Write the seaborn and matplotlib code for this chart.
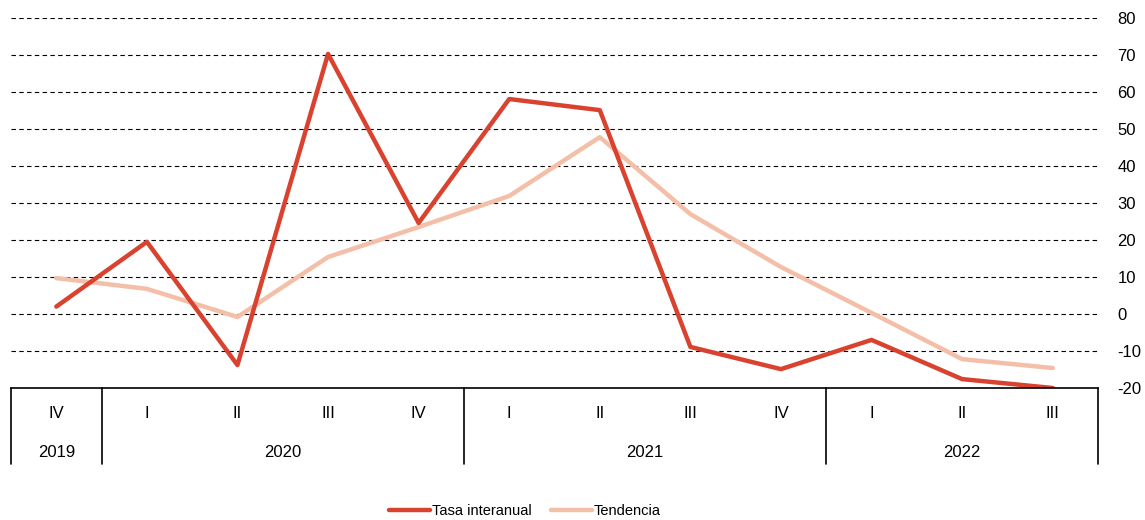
import pandas as pd
import seaborn as sns
import matplotlib.pyplot as plt
import matplotlib.transforms as mtransforms

# Datos
quarters = ['IV', 'I', 'II', 'III', 'IV', 'I', 'II', 'III', 'IV', 'I', 'II', 'III']
years = ['2019', '2020', '2021', '2022']
quarters_per_year = [1, 4, 4, 3]
tasa_interanual = [2.0, 19.5, -13.8, 70.3, 24.6, 58.1, 55.1, -8.9, -14.9, -7.0, -17.6, -20.0]
tendencia = [9.7, 6.8, -0.8, 15.4, 23.5, 31.9, 47.8, 27.0, 12.7, 0.3, -12.2, -14.6]

RED = '#d9422f'
PINK = '#f3bfa8'

def build_frame():
    """Long table for seaborn"""
    idx = list(range(len(quarters)))
    df = pd.DataFrame({
        'pos': idx * 2,
        'valor': tasa_interanual + tendencia,
        'serie': ['Tasa interanual'] * len(idx) + ['Tendencia'] * len(idx),
    })
    return df


def main():
    sns.set_style('white')
    plt.rcParams['font.family'] = ['Liberation Sans', 'DejaVu Sans']
    plt.rcParams['axes.unicode_minus'] = False
    plt.rcParams['text.color'] = 'black'
    plt.rcParams['ytick.color'] = 'black'
    plt.rcParams['ytick.labelcolor'] = 'black'

    df = build_frame()

    fig = plt.figure(figsize=(11.45, 5.2), dpi=100)
    ax = fig.add_axes([11 / 1145, 1 - 388 / 520, (1098 - 11) / 1145, 370 / 520])

    sns.lineplot(data=df, x='pos', y='valor', hue='serie',
                 palette={'Tasa interanual': RED, 'Tendencia': PINK},
                 hue_order=['Tendencia', 'Tasa interanual'],
                 linewidth=3.2, ax=ax, legend=False)

    ax.set_xlim(-0.5, len(quarters) - 0.5)
    ax.set_ylim(-20, 80)
    ax.set_yticks(range(-20, 81, 10))
    ax.yaxis.tick_right()
    ax.tick_params(axis='y', length=0, pad=14, labelsize=12, labelcolor='black')
    ax.set_xticks([])
    ax.set_xlabel('')
    ax.set_ylabel('')

    # dashed grid
    for v in range(-10, 81, 10):
        ax.axhline(v, color='black', lw=0.8, ls=(0, (4, 3)), zorder=0)

    for s in ['top', 'left', 'right']:
        ax.spines[s].set_visible(False)
    ax.spines['bottom'].set_color('black')
    ax.spines['bottom'].set_linewidth(1.2)

    # category table under the axis
    trans = mtransforms.blended_transform_factory(ax.transData, ax.transAxes)
    bottom = -0.205
    for i, q in enumerate(quarters):
        ax.text(i, -0.068, q, transform=trans, ha='center', va='center', fontsize=12)

    start = -0.5
    ax.plot([start, start], [0, bottom], transform=trans, color='black', lw=1.2, clip_on=False)
    for y, n in zip(years, quarters_per_year):
        end = start + n
        ax.text((start + end) / 2, -0.173, y, transform=trans, ha='center', va='center', fontsize=12)
        ax.plot([end, end], [0, bottom], transform=trans, color='black', lw=1.2, clip_on=False)
        start = end

    # legend
    handles = [plt.Line2D([], [], color=RED, lw=3.2, solid_capstyle='round'),
               plt.Line2D([], [], color=PINK, lw=3.2, solid_capstyle='round')]
    fig.legend(handles, ['Tasa interanual', 'Tendencia'], loc='center',
               bbox_to_anchor=(525 / 1145, 9 / 520), ncol=2, frameon=False,
               fontsize=10.5, handlelength=2.8, handletextpad=0.15, columnspacing=1.3)

    fig.savefig('out.png', dpi=100)


if __name__ == '__main__':
    main()
